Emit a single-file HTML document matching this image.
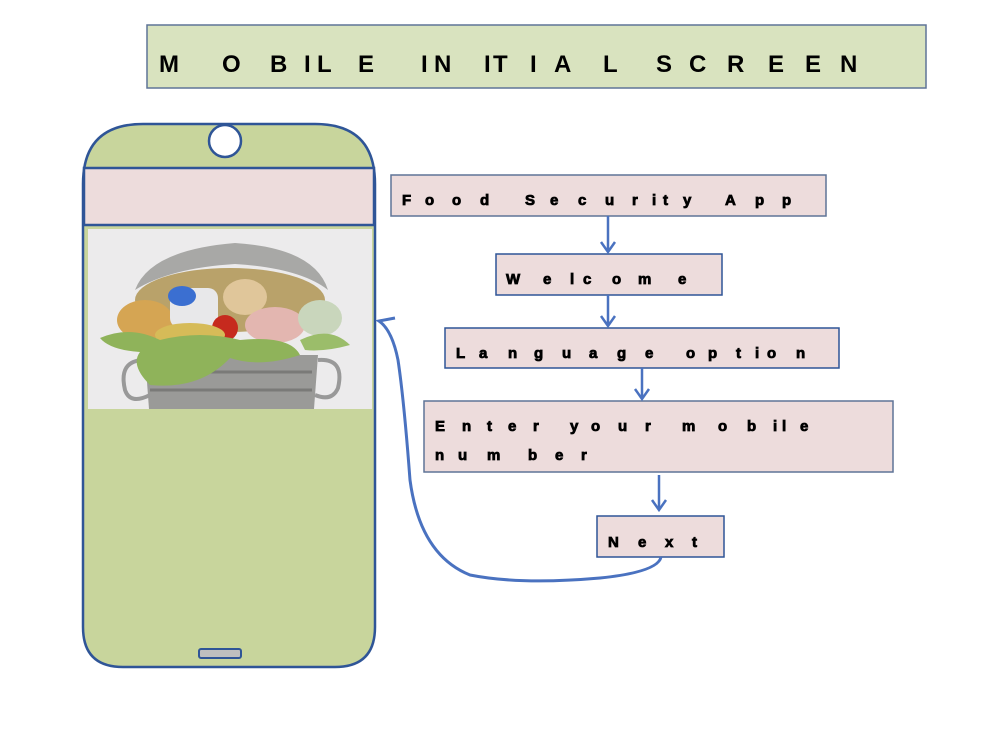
<!DOCTYPE html>
<html><head><meta charset="utf-8"><style>
html,body{margin:0;padding:0;background:#fff;}
svg{display:block;}
.t{font-family:"Liberation Sans",sans-serif;font-weight:bold;fill:#000;}
.h{stroke:#000;stroke-width:0.8;}
</style></head><body>
<svg width="1000" height="750" viewBox="0 0 1000 750" xmlns="http://www.w3.org/2000/svg">
<!-- title -->
<rect x="147" y="25" width="779" height="63" fill="#d9e3bf" stroke="#5f7497" stroke-width="1.5"/>
<g class="t" font-size="24">
<text x="159" y="72">M</text><text x="222" y="72">O</text><text x="270" y="72">B</text><text x="304" y="72">I</text><text x="317" y="72">L</text><text x="358" y="72">E</text>
<text x="421" y="72">I</text><text x="434" y="72">N</text><text x="484" y="72">I</text><text x="493" y="72">T</text><text x="530" y="72">I</text><text x="554" y="72">A</text><text x="603" y="72">L</text>
<text x="656" y="72">S</text><text x="689" y="72">C</text><text x="727" y="72">R</text><text x="768" y="72">E</text><text x="805" y="72">E</text><text x="840" y="72">N</text>
</g>
<!-- phone -->
<path d="M83,184 Q83,124 143,124 L315,124 Q375,124 375,184 L375,627 Q375,667 335,667 L123,667 Q83,667 83,627 Z" fill="#c8d59c" stroke="#2f5597" stroke-width="2.5"/>
<rect x="84" y="168" width="290" height="57" fill="#eddcdc" stroke="#2f5597" stroke-width="2.5"/>
<circle cx="225" cy="141" r="16" fill="#fff" stroke="#2f5597" stroke-width="2.5"/>
<rect x="199" y="649" width="42" height="9" rx="2" fill="#bfbfbf" stroke="#2f5597" stroke-width="2"/>
<!-- photo -->
<rect x="88" y="229" width="284" height="180" fill="#ecebec"/>
<path d="M145,355 L318,355 L314,409 L149,409 Z" fill="#9a9a98"/>
<path d="M150,372 L312,372 M150,390 L312,390" stroke="#7a7a78" stroke-width="3"/>
<path d="M145,360 Q118,360 125,390 Q130,405 150,395" fill="none" stroke="#999" stroke-width="4"/>
<path d="M318,360 Q345,358 338,388 Q332,402 315,395" fill="none" stroke="#999" stroke-width="4"/>
<path d="M135,290 Q150,250 235,243 Q315,248 328,290 Q300,268 235,264 Q170,268 135,290 Z" fill="#a8a8a6"/>
<ellipse cx="230" cy="300" rx="95" ry="32" fill="#b9a26a"/>
<ellipse cx="145" cy="320" rx="28" ry="20" fill="#d5a553"/>
<rect x="170" y="288" width="48" height="40" rx="10" fill="#e8e8ea"/>
<ellipse cx="182" cy="296" rx="14" ry="10" fill="#3b6fd1"/>
<ellipse cx="245" cy="297" rx="22" ry="18" fill="#e0c69a"/>
<ellipse cx="275" cy="325" rx="30" ry="18" fill="#e3b6b0"/>
<circle cx="225" cy="328" r="13" fill="#c62a1e"/>
<ellipse cx="190" cy="335" rx="35" ry="12" fill="#d6bb58"/>
<ellipse cx="320" cy="318" rx="22" ry="18" fill="#c9d6bc"/>
<path d="M100,338 Q130,325 160,340 Q200,330 240,340 Q290,335 300,355 Q260,368 230,358 Q200,390 150,385 Q130,365 140,352 Q110,350 100,338 Z" fill="#8fb35a"/>
<path d="M300,340 Q330,325 350,345 Q325,352 305,350 Z" fill="#9bbd6a"/>
<!-- boxes -->
<g fill="#eddcdc" stroke="#5f7497" stroke-width="1.5">
<rect x="391" y="175" width="435" height="41"/>
<rect x="496" y="254" width="226" height="41" stroke="#2f5597"/>
<rect x="445" y="328" width="394" height="40" stroke="#2f5597"/>
<rect x="424" y="401" width="469" height="71"/>
<rect x="597" y="516" width="127" height="41" stroke="#2f5597"/>
</g>
<g class="t h" font-size="15">
<text x="402" y="205">F</text><text x="425" y="205">o</text><text x="452" y="205">o</text><text x="480" y="205">d</text><text x="525" y="205">S</text><text x="550" y="205">e</text><text x="578" y="205">c</text><text x="605" y="205">u</text><text x="632" y="205">r</text><text x="652" y="205">i</text><text x="663" y="205">t</text><text x="683" y="205">y</text><text x="725" y="205">A</text><text x="755" y="205">p</text><text x="782" y="205">p</text>
<text x="506" y="284">W</text><text x="543" y="284">e</text><text x="570" y="284">l</text><text x="583" y="284">c</text><text x="612" y="284">o</text><text x="638" y="284">m</text><text x="678" y="284">e</text>
<text x="456" y="358">L</text><text x="479" y="358">a</text><text x="508" y="358">n</text><text x="534" y="358">g</text><text x="562" y="358">u</text><text x="589" y="358">a</text><text x="617" y="358">g</text><text x="645" y="358">e</text><text x="686" y="358">o</text><text x="708" y="358">p</text><text x="736" y="358">t</text><text x="755" y="358">i</text><text x="767" y="358">o</text><text x="796" y="358">n</text>
<text x="435" y="431">E</text><text x="462" y="431">n</text><text x="487" y="431">t</text><text x="508" y="431">e</text><text x="533" y="431">r</text><text x="570" y="431">y</text><text x="591" y="431">o</text><text x="618" y="431">u</text><text x="645" y="431">r</text><text x="682" y="431">m</text><text x="718" y="431">o</text><text x="747" y="431">b</text><text x="773" y="431">i</text><text x="782" y="431">l</text><text x="800" y="431">e</text>
<text x="435" y="460">n</text><text x="458" y="460">u</text><text x="487" y="460">m</text><text x="528" y="460">b</text><text x="555" y="460">e</text><text x="581" y="460">r</text>
<text x="608" y="547">N</text><text x="638" y="547">e</text><text x="665" y="547">x</text><text x="692" y="547">t</text>
</g>
<!-- arrows -->
<g stroke="#4a72c0" stroke-width="2.5" fill="none">
<path d="M608,216 V252 M601,242 L608,252 L615,242"/>
<path d="M608,295 V326 M601,316 L608,326 L615,316"/>
<path d="M642,368 V399 M635,389 L642,399 L649,389"/>
<path d="M659,475 V510 M652,500 L659,510 L666,500"/>
<path d="M661,557 Q658,572 600,578 Q520,585 470,575 Q420,555 410,480 Q404,400 398,360 Q392,330 379,321 L395,318" stroke-width="3"/>
</g>
</svg>
</body></html>
